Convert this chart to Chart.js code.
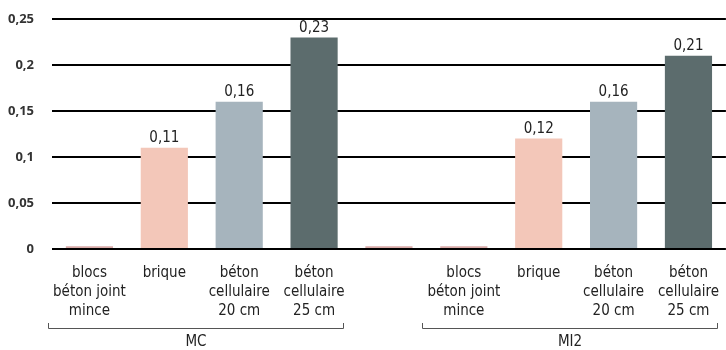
<!DOCTYPE html>
<html>
<head>
<meta charset="utf-8">
<script src="https://cdn.jsdelivr.net/npm/chart.js@4/dist/chart.umd.min.js"></script>
<style>
  html, body { margin: 0; padding: 0; background: #fff; }
  #wrap { width: 726px; height: 350px; }
</style>
</head>
<body>
<div id="wrap"><canvas id="chart"></canvas></div>
<script>
const categories = [
    ["blocs", "béton joint", "mince"],
    "brique",
    ["béton", "cellulaire", "20 cm"],
    ["béton", "cellulaire", "25 cm"],
    "",
    ["blocs", "béton joint", "mince"],
    "brique",
    ["béton", "cellulaire", "20 cm"],
    ["béton", "cellulaire", "25 cm"]
];
const values = [0.003, 0.11, 0.16, 0.23, 0.003, 0.003, 0.12, 0.16, 0.21];
const valueLabels = ["", "0,11", "0,16", "0,23", "", "", "0,12", "0,16", "0,21"];
const barColors = ["#d9aaa8", "#f3c7b9", "#a6b4bd", "#5c6c6d", "#d9aaa8", "#d9aaa8", "#f3c7b9", "#a6b4bd", "#5c6c6d"];
const groups = [
    { name: "MC", from: 0, to: 3 },
    { name: "MI2", from: 5, to: 8 }
];
const yTicks = [0, 0.05, 0.1, 0.15, 0.2, 0.25];

const FONT = "'DejaVu Sans Condensed', 'DejaVu Sans', sans-serif";

// value on top of each bar
const barLabels = {
    id: "barLabels",
    afterDatasetsDraw(chart) {
        const ctx = chart.ctx;
        const meta = chart.getDatasetMeta(0);
        ctx.save();
        ctx.font = "15px " + FONT;
        ctx.fillStyle = "#222";
        ctx.textAlign = "center";
        ctx.textBaseline = "bottom";
        meta.data.forEach((bar, i) => {
            if (valueLabels[i]) ctx.fillText(valueLabels[i], bar.x, bar.y - 2);
        });
        ctx.restore();
    }
};

// brackets under the category labels
const groupBrackets = {
    id: "groupBrackets",
    afterDraw(chart) {
        const ctx = chart.ctx;
        const x = chart.scales.x;
        const y = 328;
        ctx.save();
        ctx.strokeStyle = "#555";
        ctx.lineWidth = 1;
        ctx.font = "15px " + FONT;
        ctx.fillStyle = "#222";
        ctx.textAlign = "center";
        ctx.textBaseline = "middle";
        groups.forEach(g => {
            const x0 = Math.round(x.getPixelForValue(g.from - 0.56)) + 0.5;
            const x1 = Math.round(x.getPixelForValue(g.to + 0.38)) + 0.5;
            ctx.beginPath();
            ctx.moveTo(x0, y - 5);
            ctx.lineTo(x0, y + 0.5);
            ctx.lineTo(x1, y + 0.5);
            ctx.lineTo(x1, y - 5);
            ctx.stroke();
            ctx.fillText(g.name, (x0 + x1) / 2, y + 14);
        });
        ctx.restore();
    }
};

new Chart(document.getElementById("chart"), {
    type: "bar",
    data: {
        labels: categories,
        datasets: [{
            data: values,
            backgroundColor: barColors,
            barPercentage: 0.63,
            categoryPercentage: 1
        }]
    },
    options: {
        responsive: true,
        maintainAspectRatio: false,
        animation: false,
        layout: { padding: { left: 0, right: 0, top: 19, bottom: 22 } },
        plugins: { legend: { display: false }, tooltip: { enabled: false } },
        scales: {
            x: {
                grid: { display: false },
                border: { display: false },
                ticks: {
                    color: "#222",
                    font: { family: FONT, size: 15, lineHeight: "19px" },
                    maxRotation: 0,
                    autoSkip: false,
                    padding: 7
                }
            },
            y: {
                min: 0,
                max: 0.25,
                afterBuildTicks: (scale) => { scale.ticks = yTicks.map(v => ({ value: v })); },
                afterFit: (scale) => { scale.width = 52; },
                // invisible tick marks keep the labels clear of the grid
                grid: { color: "#000", lineWidth: 2, drawTicks: true, tickLength: 18, tickColor: "rgba(0,0,0,0)" },
                border: { display: false },
                ticks: {
                    color: "#333",
                    padding: 0,
                    font: { family: "'Open Sans', sans-serif", size: 13, weight: "bold" },
                    callback: (v) => String(v).replace(".", ",")
                }
            }
        }
    },
    plugins: [barLabels, groupBrackets]
});
</script>
</body>
</html>
